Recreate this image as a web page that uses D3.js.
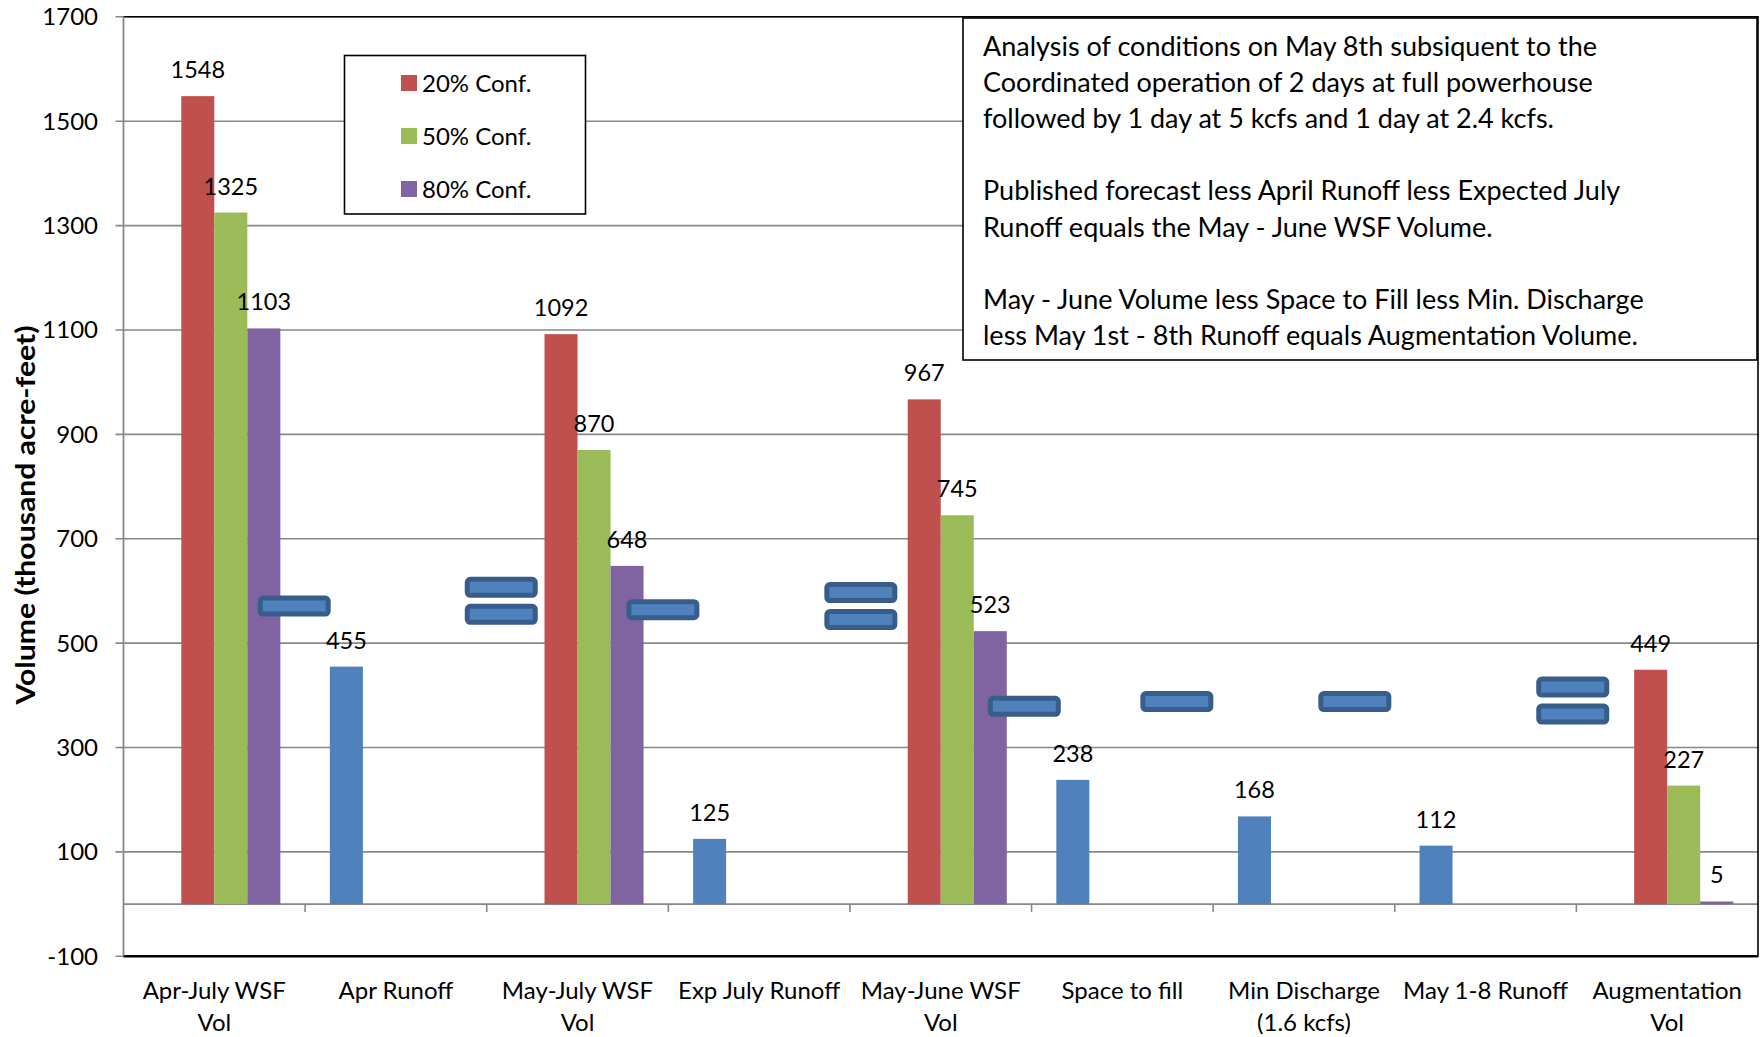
<!DOCTYPE html>
<html>
<head>
<meta charset="utf-8">
<script src="https://cdnjs.cloudflare.com/ajax/libs/d3/7.8.5/d3.min.js"></script>
<style>
body { margin: 0; background: #fff; }
text { font-family: Lato, "Open Sans", sans-serif; fill: #000; }
</style>
</head>
<body>
<div id="chart"></div>
<script>
var categories = [
	['Apr-July WSF', 'Vol'],
	['Apr Runoff'],
	['May-July WSF', 'Vol'],
	['Exp July Runoff'],
	['May-June WSF', 'Vol'],
	['Space to fill'],
	['Min Discharge', '(1.6 kcfs)'],
	['May 1-8 Runoff'],
	['Augmentation', 'Vol']
];
var seriesNames = ['Volume', '20% Conf.', '50% Conf.', '80% Conf.'];
var volumeValues = [null, 455, null, 125, null, 238, 168, 112, null];
var conf20Values = [1548, null, 1092, null, 967, null, null, null, 449];
var conf50Values = [1325, null, 870, null, 745, null, null, null, 227];
var conf80Values = [1103, null, 648, null, 523, null, null, null, 5];
var yTicks = [-100, 100, 300, 500, 700, 900, 1100, 1300, 1500, 1700];

// the blue "minus" / "equals" shapes between the columns
var opSymbols = ['-', '=', '-', '=', '-', '-', '-', '='];
var opPositions = [0.94, 2.08, 2.97, 4.06, 4.96, 5.80, 6.78, 7.98];
var opLevels = [571, 581, 564, 571, 379, 388, 388, 390];

var noteLines = [
	'Analysis of conditions on May 8th subsiquent to the',
	'Coordinated operation of 2 days at full powerhouse',
	'followed by 1 day at 5 kcfs and 1 day at 2.4 kcfs.',
	'',
	'Published forecast less April Runoff less Expected July',
	'Runoff equals the May - June WSF Volume.',
	'',
	'May - June Volume less Space to Fill less Min. Discharge',
	'less May 1st - 8th Runoff equals Augmentation Volume.'
];

var width = 1760;
var height = 1037;
var plot = {left: 123.5, right: 1758, top: 16.8, bottom: 956.3};
var colors = ['#4F81BD', '#C0504D', '#9BBB59', '#8064A2'];
var gridColor = '#888888';

var seriesValues = [volumeValues, conf20Values, conf50Values, conf80Values];

var svg = d3.select('#chart')
	.append('svg')
	.attr('width', width)
	.attr('height', height);

var x = d3.scaleBand()
	.domain(d3.range(categories.length))
	.range([plot.left, plot.right])
	.paddingInner(0)
	.paddingOuter(0);

var xSeries = d3.scaleBand()
	.domain(d3.range(seriesNames.length))
	.range([0, x.bandwidth()])
	.paddingInner(0)
	.paddingOuter(0.75);

var y = d3.scaleLinear()
	.domain([-100, 1700])
	.range([plot.bottom, plot.top]);

var catX = function(pos){
	return plot.left + pos * x.step();
};

// gridlines
svg.append('g')
	.selectAll('line')
	.data(yTicks)
	.enter()
	.append('line')
	.attr('x1', plot.left - 8)
	.attr('x2', plot.right)
	.attr('y1', function(d){ return y(d); })
	.attr('y2', function(d){ return y(d); })
	.attr('stroke', gridColor)
	.attr('stroke-width', 1.6);

// zero line with category ticks
svg.append('line')
	.attr('x1', plot.left)
	.attr('x2', plot.right)
	.attr('y1', y(0))
	.attr('y2', y(0))
	.attr('stroke', gridColor)
	.attr('stroke-width', 1.6);

svg.append('g')
	.selectAll('line')
	.data(d3.range(1, categories.length))
	.enter()
	.append('line')
	.attr('x1', function(d){ return catX(d); })
	.attr('x2', function(d){ return catX(d); })
	.attr('y1', y(0))
	.attr('y2', y(0) + 8)
	.attr('stroke', gridColor)
	.attr('stroke-width', 1.6);

// plot border (top, right, bottom)
svg.append('path')
	.attr('d', 'M' + plot.left + ',' + plot.top + 'H' + plot.right + 'V' + plot.bottom + 'H' + plot.left)
	.attr('fill', 'none')
	.attr('stroke', '#000')
	.attr('stroke-width', 1.6);

svg.append('line')
	.attr('x1', plot.left)
	.attr('x2', plot.right)
	.attr('y1', plot.bottom)
	.attr('y2', plot.bottom)
	.attr('stroke', '#000')
	.attr('stroke-width', 2.5);

// y axis line
svg.append('line')
	.attr('x1', plot.left)
	.attr('x2', plot.left)
	.attr('y1', plot.top)
	.attr('y2', plot.bottom)
	.attr('stroke', gridColor)
	.attr('stroke-width', 1.8);

// y tick labels
svg.append('g')
	.selectAll('text')
	.data(yTicks)
	.enter()
	.append('text')
	.attr('x', 98)
	.attr('y', function(d){ return y(d) + 8.5; })
	.attr('text-anchor', 'end')
	.style('font-size', '24px')
	.text(function(d){ return d; });

// y title
svg.append('text')
	.attr('transform', 'translate(35,515) rotate(-90)')
	.attr('text-anchor', 'middle')
	.attr('textLength', 379)
	.attr('lengthAdjust', 'spacingAndGlyphs')
	.style('font-size', '27px')
	.style('font-weight', 'bold')
	.text('Volume (thousand acre-feet)');

// bars
seriesValues.forEach(function(values, s){
	var g = svg.append('g');
	values.forEach(function(v, i){
		if(v === null){
			return;
		}
		var bx = x(i) + xSeries(s);
		g.append('rect')
			.attr('x', bx)
			.attr('y', y(v))
			.attr('width', xSeries.bandwidth())
			.attr('height', y(0) - y(v))
			.attr('fill', colors[s]);
		g.append('text')
			.attr('x', bx + xSeries.bandwidth() / 2)
			.attr('y', y(v) - 18)
			.attr('text-anchor', 'middle')
			.style('font-size', '23.5px')
			.text(v);
	});
});

// category labels
var catLabels = svg.append('g')
	.selectAll('text')
	.data(categories)
	.enter()
	.append('text')
	.attr('x', function(d, i){ return x(i) + x.bandwidth() / 2; })
	.attr('y', 999)
	.attr('text-anchor', 'middle')
	.style('font-size', '24px');

catLabels.selectAll('tspan')
	.data(function(d){ return d; })
	.enter()
	.append('tspan')
	.attr('x', function(){ return this.parentNode.getAttribute('x'); })
	.attr('dy', function(d, j){ return j === 0 ? 0 : 31.5; })
	.text(function(d){ return d; });

// operator shapes
var opW = 68;
var opH = 16;
opSymbols.forEach(function(sym, i){
	var cx = catX(opPositions[i]);
	var cy = y(opLevels[i]);
	var offsets = sym === '=' ? [-13.5, 13.5] : [0];
	offsets.forEach(function(off){
		svg.append('rect')
			.attr('x', cx - opW / 2)
			.attr('y', cy + off - opH / 2)
			.attr('width', opW)
			.attr('height', opH)
			.attr('rx', 3)
			.attr('ry', 3)
			.attr('fill', '#4F81BD')
			.attr('stroke', '#385D8A')
			.attr('stroke-width', 5);
	});
});

// legend
var legend = svg.append('g');
legend.append('rect')
	.attr('x', 344.5)
	.attr('y', 55.5)
	.attr('width', 241)
	.attr('height', 158.5)
	.attr('fill', '#fff')
	.attr('stroke', '#000')
	.attr('stroke-width', 1.6);

seriesNames.slice(1).forEach(function(name, i){
	var cy = 83 + i * 53;
	legend.append('rect')
		.attr('x', 401)
		.attr('y', cy - 8)
		.attr('width', 16)
		.attr('height', 16)
		.attr('fill', colors[i + 1]);
	legend.append('text')
		.attr('x', 422)
		.attr('y', cy + 8.5)
		.style('font-size', '24px')
		.text(name);
});

// note box
var note = svg.append('g');
note.append('rect')
	.attr('x', 963)
	.attr('y', 18)
	.attr('width', 794)
	.attr('height', 342)
	.attr('fill', '#fff')
	.attr('stroke', '#000')
	.attr('stroke-width', 1.6);

note.append('text')
	.attr('x', 983)
	.attr('y', 56)
	.style('font-size', '27px')
	.selectAll('tspan')
	.data(noteLines)
	.enter()
	.append('tspan')
	.attr('x', 983)
	.attr('dy', function(d, i){ return i === 0 ? 0 : 36.1; })
	.text(function(d){ return d === '' ? '\u00a0' : d; });
</script>
</body>
</html>
